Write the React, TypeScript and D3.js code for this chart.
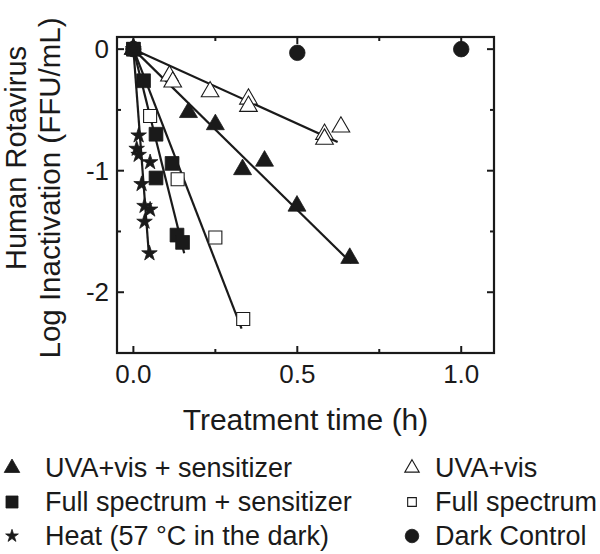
import React from "react";
import * as d3 from "d3";

// ---- data ----
const uvaSensT = [0, 0.168, 0.25, 0.333, 0.4, 0.499, 0.66];
const uvaSensV = [0, -0.52, -0.62, -0.99, -0.92, -1.29, -1.72];

const uvaT = [0, 0.11, 0.12, 0.234, 0.351, 0.351, 0.583, 0.583, 0.633];
const uvaV = [0, -0.22, -0.27, -0.35, -0.41, -0.47, -0.7, -0.74, -0.64];

const fullSensT = [0, 0.031, 0.069, 0.118, 0.069, 0.133, 0.15];
const fullSensV = [0, -0.26, -0.7, -0.94, -1.06, -1.53, -1.59];

const fullT = [0, 0.051, 0.135, 0.25, 0.335];
const fullV = [0, -0.55, -1.07, -1.55, -2.22];

const heatT = [0, 0.016, 0.01, 0.016, 0.051, 0.025, 0.034, 0.051, 0.034, 0.049];
const heatV = [0, -0.71, -0.82, -0.87, -0.93, -1.11, -1.29, -1.32, -1.42, -1.68];

const darkT = [0, 0.5, 1.0];
const darkV = [0, -0.03, 0];

// fitted regression lines: from (0,0) to (end time, end value)
const fitNames = ["uva", "uvaSens", "fullSens", "full", "heat"];
const fitEndT = [0.623, 0.665, 0.155, 0.33, 0.047];
const fitEndV = [-0.764, -1.76, -1.68, -2.3, -1.68];

const xMajorTicks = [0, 0.5, 1.0];
const xMinorTicks = [0.25, 0.75];
const yMajorTicks = [0, -1, -2];
const yMinorTicks = [-0.5, -1.5];

const legendLabels = [
  "UVA+vis + sensitizer",
  "UVA+vis",
  "Full spectrum + sensitizer",
  "Full spectrum",
  "Heat (57 °C in the dark)",
  "Dark Control",
];

const FONT = "'Liberation Sans', Arial, Helvetica, sans-serif";
const INK = "#1a1a1a";

const L = 117, R = 494, T = 37, B = 353;
const x = d3.scaleLinear().domain([-0.05, 1.1]).range([L, R]);
const y = d3.scaleLinear().domain([-2.5, 0.1]).range([B, T]);

type Kind = "triUp" | "triOpen" | "sq" | "sqOpen" | "star" | "circ";

function symPath(kind: Kind, size: number) {
  const t =
    kind === "triUp" || kind === "triOpen"
      ? d3.symbolTriangle
      : kind === "sq" || kind === "sqOpen"
      ? d3.symbolSquare
      : kind === "star"
      ? d3.symbolStar
      : d3.symbolCircle;
  return d3.symbol().type(t).size(size)() as string;
}

function Marker({ kind, cx, cy, size }: { kind: Kind; cx: number; cy: number; size: number }) {
  const open = kind === "triOpen" || kind === "sqOpen";
  return (
    <path
      d={symPath(kind, size)}
      transform={`translate(${cx},${cy})`}
      fill={open ? "#fff" : INK}
      stroke={INK}
      strokeWidth={open ? 1.1 : 0.8}
    />
  );
}

const series: { kind: Kind; t: number[]; v: number[]; size: number }[] = [
  { kind: "circ", t: darkT, v: darkV, size: 190 },
  { kind: "triOpen", t: uvaT, v: uvaV, size: 135 },
  { kind: "sqOpen", t: fullT, v: fullV, size: 170 },
  { kind: "triUp", t: uvaSensT, v: uvaSensV, size: 140 },
  { kind: "sq", t: fullSensT, v: fullSensV, size: 190 },
  { kind: "star", t: heatT, v: heatV, size: 75 },
];

const legendKinds: Kind[] = ["triUp", "triOpen", "sq", "sqOpen", "star", "circ"];
const legendSizes = [105, 90, 145, 75, 50, 145];

export default function App() {
  const line = d3.line<[number, number]>().x((d) => x(d[0])).y((d) => y(d[1]));
  const majLen = 7, minLen = 4;
  return (
    <svg
      width={600}
      height={554}
      style={{ position: "absolute", left: 0, top: 0, background: "#fff" }}
      fontFamily={FONT}
    >
      <rect x={0} y={0} width={600} height={554} fill="#fff" />
      {/* regression lines */}
      {fitNames.map((n, i) => (
        <path
          key={n}
          d={line([
            [0, 0],
            [fitEndT[i], fitEndV[i]],
          ]) as string}
          stroke={INK}
          strokeWidth={2.2}
          fill="none"
        />
      ))}
      {/* markers */}
      {series.map((s, si) =>
        s.t.map((t, i) => (
          <Marker key={`${si}-${i}`} kind={s.kind} cx={x(t)} cy={y(s.v[i])} size={s.size} />
        ))
      )}
      {/* frame */}
      <rect x={L} y={T} width={R - L} height={B - T} fill="none" stroke={INK} strokeWidth={2.2} />
      {/* ticks */}
      {xMajorTicks.map((t) => (
        <g key={`xm${t}`}>
          <line x1={x(t)} x2={x(t)} y1={B} y2={B - majLen} stroke={INK} strokeWidth={2} />
          <line x1={x(t)} x2={x(t)} y1={T} y2={T + majLen} stroke={INK} strokeWidth={2} />
          <text x={x(t)} y={383} textAnchor="middle" fontSize={26} fill={INK}>
            {d3.format(".1f")(t)}
          </text>
        </g>
      ))}
      {xMinorTicks.map((t) => (
        <g key={`xn${t}`}>
          <line x1={x(t)} x2={x(t)} y1={B} y2={B - minLen} stroke={INK} strokeWidth={2} />
          <line x1={x(t)} x2={x(t)} y1={T} y2={T + minLen} stroke={INK} strokeWidth={2} />
        </g>
      ))}
      {yMajorTicks.map((v) => (
        <g key={`ym${v}`}>
          <line x1={L} x2={L + majLen} y1={y(v)} y2={y(v)} stroke={INK} strokeWidth={2} />
          <line x1={R} x2={R - majLen} y1={y(v)} y2={y(v)} stroke={INK} strokeWidth={2} />
          <text x={109} y={y(v) + 9} textAnchor="end" fontSize={26} fill={INK}>
            {v === 0 ? "0" : `-${Math.abs(v)}`}
          </text>
        </g>
      ))}
      {yMinorTicks.map((v) => (
        <g key={`yn${v}`}>
          <line x1={L} x2={L + minLen} y1={y(v)} y2={y(v)} stroke={INK} strokeWidth={2} />
          <line x1={R} x2={R - minLen} y1={y(v)} y2={y(v)} stroke={INK} strokeWidth={2} />
        </g>
      ))}
      {/* axis titles */}
      <text x={(L + R) / 2} y={430} textAnchor="middle" fontSize={30} fill={INK}>
        Treatment time (h)
      </text>
      <text transform={`translate(26,158) rotate(-90)`} textAnchor="middle" fontSize={29} fill={INK}>
        Human Rotavirus
      </text>
      <text transform={`translate(60,188) rotate(-90)`} textAnchor="middle" fontSize={29.5} fill={INK}>
        Log Inactivation (FFU/mL)
      </text>
      {/* legend */}
      {legendLabels.map((lab, i) => {
        const col = i % 2;
        const row = Math.floor(i / 2);
        const sx = col === 0 ? 12 : 412;
        const tx = col === 0 ? 45 : 435;
        const baseY = [477, 511, 545][row];
        const symY = [468, 502, 536][row];
        return (
          <g key={lab}>
            <Marker kind={legendKinds[i]} cx={sx} cy={symY} size={legendSizes[i]} />
            <text x={tx} y={baseY} fontSize={27} fill={INK}>
              {lab}
            </text>
          </g>
        );
      })}
    </svg>
  );
}
